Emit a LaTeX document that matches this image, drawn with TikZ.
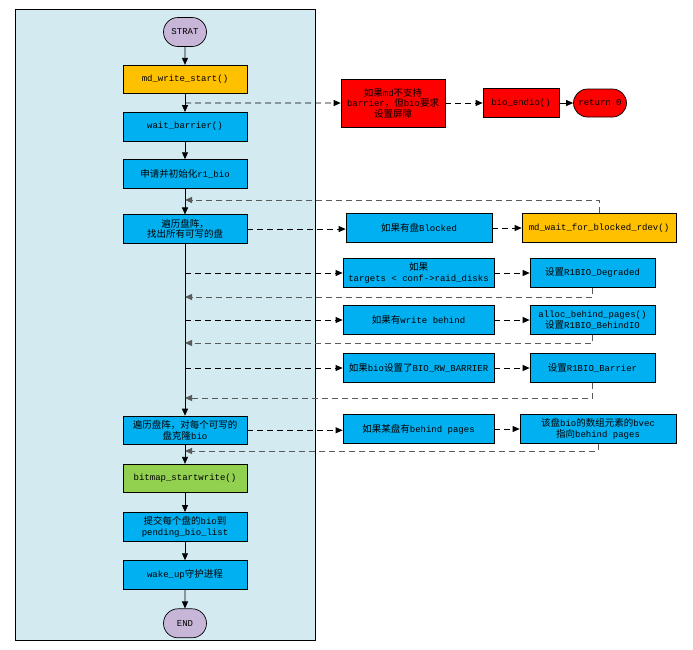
\documentclass[tikz,border=0pt]{standalone}
\usepackage{fontspec}
\setmainfont{Liberation Mono}
\newfontfamily\cjkfont{Noto Sans CJK SC}
\usepackage{tikz}
\usetikzlibrary{positioning}
\usetikzlibrary{arrows.meta}
\usetikzlibrary{shapes,calc}
\definecolor{panelblue}{RGB}{210,234,240}
\definecolor{boxblue}{RGB}{0,176,240}
\definecolor{boxorange}{RGB}{255,192,0}
\definecolor{boxgreen}{RGB}{146,208,80}
\definecolor{termpurple}{RGB}{200,182,216}
\definecolor{backgray}{RGB}{90,90,90}
\newcommand{\zh}[1]{{\cjkfont\fontsize{9.5}{10.5}\selectfont #1}}
\tikzset{main node/.style={rectangle,draw,fill=boxblue,minimum width=124pt,minimum height=28.5pt,inner sep=1pt,align=center,font=\fontsize{9}{10.5}\selectfont},
         term node/.style={rounded rectangle,draw,fill=termpurple,minimum width=45pt,minimum height=29pt,inner sep=1pt,font=\fontsize{9}{10.5}\selectfont},
         side node/.style={main node,minimum width=151pt},
         flow/.style={-{Triangle[length=7pt,width=6pt]},line width=0.8pt},
         go out/.style={flow,dash pattern=on 6pt off 4pt},
         go back/.style={flow,draw=backgray,line width=1pt,dash pattern=on 6pt off 4pt}}

\begin{document}
\begin{tikzpicture}[x=1pt, y=-1pt, node distance=18pt, line width=0.7pt]
    \useasboundingbox (0,0) rectangle (693,649);
    \draw[fill=panelblue, line width=1pt] (15,9.5) rectangle (315,640);

    % main column
    \node[term node] (strat) at (185,32) {STRAT};
    \node[main node, fill=boxorange] (mdstart) [below = of strat] {md\_write\_start()};
    \node[main node] (wait) [below = of mdstart] {wait\_barrier()};
    \node[main node] (alloc) [below = of wait] {\zh{申请并初始化}r1\_bio};
    \node[main node] (scan) [below = 26pt of alloc] {\zh{遍历盘阵，}\\\zh{找出所有可写的盘}};
    \node[main node] (clone) [below = 172pt of scan] {\zh{遍历盘阵，对每个可写的}\\\zh{盘克隆}bio};
    \node[main node, fill=boxgreen] (bitmap) [below = 19pt of clone] {bitmap\_startwrite()};
    \node[main node] (submit) [below = 19pt of bitmap] {\zh{提交每个盘的}bio\zh{到}\\pending\_bio\_list};
    \node[main node] (wakeup) [below = 19pt of submit] {wake\_up\zh{守护进程}};
    \node[term node] (end) [below = 19pt of wakeup] {END};

    % side branches
    \node[main node, fill=red, minimum width=104pt, minimum height=48pt] (nobarrier) at (393,103) {\zh{如果}md\zh{不支持}\\barrier\zh{，但}bio\zh{要求}\\\zh{设置屏障}};
    \node[main node, fill=red, minimum width=76pt] (endio) at (521,103) {bio\_endio()};
    \node[term node, fill=red, minimum width=55pt, minimum height=28pt] (ret) at (600,103) {return 0};
    \node[main node, minimum width=146pt] (blocked) at (419,228) {\zh{如果有盘}Blocked};
    \node[main node, fill=boxorange, minimum width=154pt] (mdwait) at (599,228) {md\_wait\_for\_blocked\_rdev()};
    \node[side node] (targets) at (418.5,273) {\zh{如果}\\targets < conf->raid\_disks};
    \node[main node, minimum width=125pt] (degraded) at (592.5,273) {\zh{设置}R1BIO\_Degraded};
    \node[side node] (wbehind) at (418.5,320) {\zh{如果有}write behind};
    \node[main node, minimum width=125pt] (behindio) at (592.5,320) {alloc\_behind\_pages()\\\zh{设置}R1BIO\_BehindIO};
    \node[side node] (rwbarrier) at (418.5,368) {\zh{如果}bio\zh{设置了}BIO\_RW\_BARRIER};
    \node[main node, minimum width=125pt] (setbarrier) at (592.5,368) {\zh{设置}R1BIO\_Barrier};
    \node[side node] (bpages) at (418.5,429) {\zh{如果某盘有}behind pages};
    \node[main node, minimum width=156pt] (bvec) at (598,429) {\zh{该盘}bio\zh{的数组元素的}bvec\\\zh{指向}behind pages};

    % points on the main line
    \coordinate (o1) at ($(mdstart.south)!0.5!(wait.north)$);
    \coordinate (b1) at (185,200);
    \coordinate (o2) at (185,273);
    \coordinate (b2) at (185,297);
    \coordinate (o3) at (185,320);
    \coordinate (b3) at (185,343);
    \coordinate (o4) at (185,368);
    \coordinate (b4) at (185,398);
    \coordinate (b5) at (185,451);

    \draw[flow] (strat) -- (mdstart);
    \draw[flow] (mdstart) -- (wait);
    \draw[flow] (wait) -- (alloc);
    \draw[flow] (alloc) -- (scan);
    \draw[flow] (scan) -- (clone);
    \draw[flow] (clone) -- (bitmap);
    \draw[flow] (bitmap) -- (submit);
    \draw[flow] (submit) -- (wakeup);
    \draw[flow] (wakeup) -- (end);

    \draw[go out] (o1) -- (nobarrier);
    \draw[go out] (nobarrier) -- (endio);
    \draw[flow] (endio) -- (ret);

    \draw[go out] (scan.east) -- (scan.east -| blocked.west);
    \draw[go out] (blocked) -- (mdwait);
    \draw[go back] (mdwait.north) |- (b1);

    \draw[go out] (o2) -- (targets);
    \draw[go out] (targets) -- (degraded);
    \draw[go back] (degraded.south) |- (b2);

    \draw[go out] (o3) -- (wbehind);
    \draw[go out] (wbehind) -- (behindio);
    \draw[go back] (behindio.south) |- (b3);

    \draw[go out] (o4) -- (rwbarrier);
    \draw[go out] (rwbarrier) -- (setbarrier);
    \draw[go back] (setbarrier.south) |- (b4);

    \draw[go out] (clone.east) -- (clone.east -| bpages.west);
    \draw[go out] (bpages) -- (bvec);
    \draw[go back] (bvec.south) |- (b5);
\end{tikzpicture}
\end{document}
